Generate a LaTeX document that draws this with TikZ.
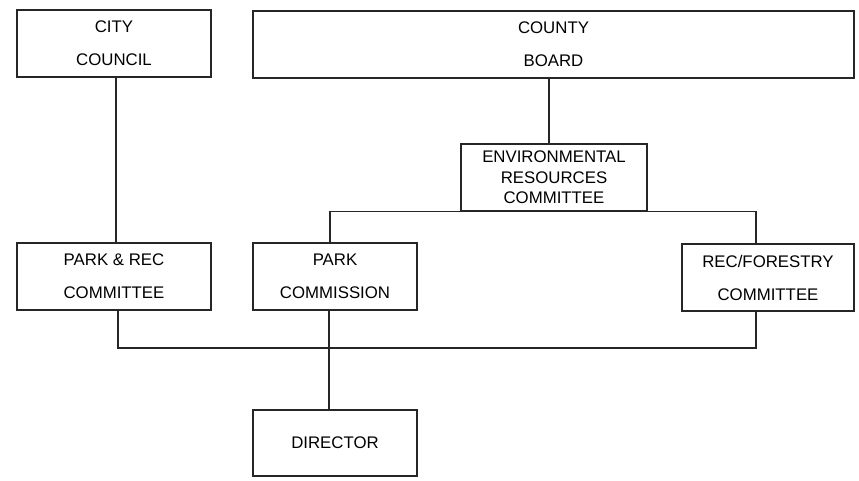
\documentclass[tikz,border=0pt]{standalone}
\usepackage{fontspec}
\setmainfont{Liberation Sans}
\begin{document}
\begin{tikzpicture}[x=1pt,y=-1pt,
  box/.style={draw=black!85, line width=1.3pt, inner sep=0pt, align=center,
    font=\fontsize{16.8}{33}\selectfont, minimum height=67pt},
  conn/.style={draw=black!85, line width=1.3pt}]
\useasboundingbox (0,0) rectangle (859,481);
\node[box, minimum width=194pt] (city) at (114,43.5) {CITY\\COUNCIL};
\node[box, minimum width=601pt] (county) at (553.5,44.5) {COUNTY\\BOARD};
\node[box, minimum width=186pt, font=\fontsize{16.8}{20.5}\selectfont] (env) at (554,177.5) {ENVIRONMENTAL\\RESOURCES\\COMMITTEE};
\node[box, minimum width=194pt] (parkrec) at (114,276.5) {PARK \& REC\\COMMITTEE};
\node[box, minimum width=164pt] (parkcomm) at (335,276.5) {PARK\\COMMISSION};
\node[box, minimum width=172pt] (recfor) at (768,277.5) {REC/FORESTRY\\COMMITTEE};
\node[box, minimum width=164pt, minimum height=66pt] (director) at (335,443) {DIRECTOR};
\coordinate (xa) at (116,0);
\coordinate (xb) at (549,0);
\coordinate (xc) at (330,0);
\coordinate (xd) at (756,0);
\coordinate (xe) at (118,0);
\coordinate (xp) at (329,0);
\coordinate (bar) at (0,348);
\draw[conn] (city.south -| xa) -- (parkrec.north -| xa);
\draw[conn] (county.south -| xb) -- (env.north -| xb);
\draw[conn] (parkcomm.north -| xc) |- (env.south) -| (recfor.north -| xd);
\draw[conn] (parkrec.south -| xe) -- (xe |- bar) -- (xd |- bar) -- (recfor.south -| xd);
\draw[conn] (parkcomm.south -| xp) -- (director.north -| xp);
\end{tikzpicture}
\end{document}
